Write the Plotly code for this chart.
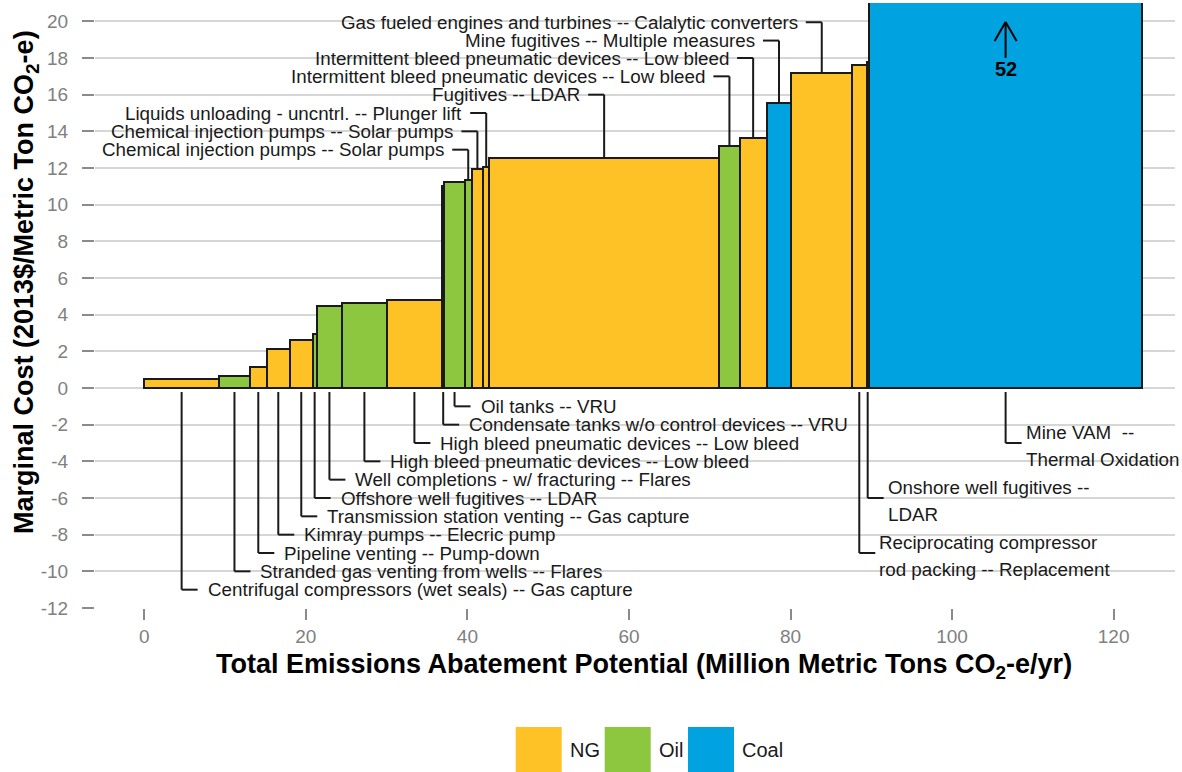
import numpy as np
import plotly.graph_objects as go

# ---- data -------------------------------------------------------------
measures = [
    "Centrifugal compressors (wet seals) -- Gas capture",
    "Stranded gas venting from wells -- Flares",
    "Pipeline venting -- Pump-down",
    "Kimray pumps -- Elecric pump",
    "Transmission station venting -- Gas capture",
    "Offshore well fugitives -- LDAR",
    "Well completions - w/ fracturing -- Flares",
    "High bleed pneumatic devices -- Low bleed",
    "High bleed pneumatic devices -- Low bleed",
    "Condensate tanks w/o control devices -- VRU",
    "Oil tanks -- VRU",
    "Chemical injection pumps -- Solar pumps",
    "Chemical injection pumps -- Solar pumps",
    "Liquids unloading - uncntrl. -- Plunger lift",
    "Fugitives -- LDAR",
    "Intermittent bleed pneumatic devices -- Low bleed",
    "Intermittent bleed pneumatic devices -- Low bleed",
    "Mine fugitives -- Multiple measures",
    "Gas fueled engines and turbines -- Calalytic converters",
    "Reciprocating compressor\nrod packing -- Replacement",
    "Onshore well fugitives --\nLDAR",
    "Mine VAM  --\nThermal Oxidation",
]
sectors = ["NG", "Oil", "NG", "NG", "NG", "Oil", "Oil", "Oil", "NG", "NG", "Oil",
           "Oil", "NG", "NG", "NG", "Oil", "NG", "Coal", "NG", "NG", "NG", "Coal"]
# abatement potential (million metric tons CO2-e/yr)
potential = [9.25, 3.83, 2.07, 2.88, 2.81, 0.50, 3.16, 5.50, 6.88, 0.25, 2.56,
             0.83, 1.44, 0.74, 28.46, 2.56, 3.31, 3.09, 7.50, 1.79, 0.29, 33.86]
# marginal cost (2013$/metric ton CO2-e)
cost = [0.50, 0.63, 1.12, 2.15, 2.62, 2.97, 4.47, 4.65, 4.78, 11.00, 11.21,
        11.36, 11.96, 12.08, 12.54, 13.20, 13.65, 15.55, 17.19, 17.64, 17.80, 52]

legend_order = ["NG", "Oil", "Coal"]
x_ticks = [0, 20, 40, 60, 80, 100, 120]
y_ticks = list(range(-12, 21, 2))
y_tick_text = [str(v) for v in y_ticks]  # plain hyphen for negatives

x_title = "<b>Total Emissions Abatement Potential (Million Metric Tons CO<sub>2</sub>-e/yr)</b>"
y_title = "<b>Marginal Cost (2013$/Metric Ton CO<sub>2</sub>-e)</b>"

# ---- styling / label layout ------------------------------------------
palette = {"NG": "#FEC126", "Oil": "#8DC63F", "Coal": "#00A3E0"}
INK = "#1a1a1a"
FONT = "Liberation Sans, Arial, sans-serif"
LABEL_SIZE = 18.8

# side of the chart each label sits on, and the height of its leader elbow
label_side = ["below"] * 11 + ["above"] * 8 + ["right"] * 3
label_level = [-11, -10, -9, -8, -7, -6, -5, -4, -3, -2, -1,
               13, 14, 15, 16, 17, 18, 18.95, 19.95,
               -9, -6, -3]

# plot area in page pixels
PL, PR, PT, PB = 95, 1175, 3, 608
X_RANGE = [-6.1, 127.6]
Y_RANGE = [-12, 21]
PX_PER_X = (PR - PL) / (X_RANGE[1] - X_RANGE[0])
ELBOW = 16 / PX_PER_X  # horizontal leader length in data units


def paper_x(px):
    return (px - PL) / (PR - PL)


def paper_y(py):
    return (PB - py) / (PB - PT)


widths = np.array(potential)
right_edges = np.cumsum(widths)
centers = right_edges - widths / 2

fig = go.Figure(
    go.Bar(
        x=centers,
        y=cost,
        width=widths,
        base=0,
        marker=dict(color=[palette[s] for s in sectors], line=dict(color=INK, width=2)),
        hovertext=measures,
        showlegend=False,
    )
)

shapes = []
annotations = []


def seg(x0, y0, x1, y1):
    shapes.append(dict(type="line", xref="x", yref="y", x0=x0, y0=y0, x1=x1, y1=y1,
                       line=dict(color=INK, width=2), layer="above"))


for name, side, lvl, cx, c in zip(measures, label_side, label_level, centers, cost):
    if side == "above":
        seg(cx, c, cx, lvl)
        seg(cx - ELBOW, lvl, cx, lvl)
        annotations.append(dict(x=cx - ELBOW, y=lvl, text=name, xref="x", yref="y",
                                xanchor="right", yanchor="middle", xshift=-6,
                                showarrow=False, font=dict(size=LABEL_SIZE, color=INK)))
    elif side == "below":
        seg(cx, -0.22, cx, lvl)
        seg(cx, lvl, cx + ELBOW, lvl)
        annotations.append(dict(x=cx + ELBOW, y=lvl, text=name, xref="x", yref="y",
                                xanchor="left", yanchor="middle", xshift=8,
                                showarrow=False, font=dict(size=LABEL_SIZE, color=INK)))
    else:
        seg(cx, -0.22, cx, lvl)
        seg(cx, lvl, cx + ELBOW, lvl)
        first, second = name.split("\n")
        for txt, dy in ((first, 0.6), (second, -0.9)):
            annotations.append(dict(x=cx + ELBOW, y=lvl + dy, text=txt, xref="x", yref="y",
                                    xanchor="left", yanchor="middle", xshift=2,
                                    showarrow=False, font=dict(size=LABEL_SIZE, color=INK)))

# off-scale marker for the last (clipped) bar: open arrow pointing up with its value
tip_y = 19.97
arrow_parts = [(0, 0, 0, -36), (0, 0, -11, -19), (0, 0, 11, -19)]
for x0, y0, x1, y1 in arrow_parts:
    shapes.append(dict(type="line", xref="x", yref="y", xsizemode="pixel", ysizemode="pixel",
                       xanchor=centers[-1], yanchor=tip_y, x0=x0, y0=y0, x1=x1, y1=y1,
                       line=dict(color="#000000", width=2), layer="above"))
annotations.append(dict(x=centers[-1], y=tip_y, xref="x", yref="y",
                        text="<b>%d</b>" % cost[-1], showarrow=False,
                        yanchor="middle", yshift=-47, font=dict(size=20, color="#000000")))

# legend swatches drawn below the axis title
sw_left = [515.7, 604.7, 688.0]
for sector, left in zip(legend_order, sw_left):
    shapes.append(dict(type="rect", xref="paper", yref="paper",
                       x0=paper_x(left), x1=paper_x(left + 46),
                       y0=paper_y(727), y1=paper_y(773),
                       fillcolor=palette[sector], line=dict(width=0)))
    annotations.append(dict(x=paper_x(left + 46), y=paper_y(750), xref="paper", yref="paper",
                            text=sector, showarrow=False, xanchor="left", yanchor="middle",
                            xshift=6, font=dict(size=20, color=INK)))

# axis titles
annotations.append(dict(x=paper_x(644), y=paper_y(666), xref="paper", yref="paper",
                        text=x_title, showarrow=False, xanchor="center", yanchor="middle",
                        font=dict(size=27, color="#000000")))
annotations.append(dict(x=paper_x(26), y=paper_y(282), xref="paper", yref="paper",
                        text=y_title, showarrow=False, textangle=-90,
                        xanchor="center", yanchor="middle",
                        font=dict(size=27, color="#000000")))

fig.update_layout(
    width=1182,
    height=772,
    autosize=False,
    margin=dict(l=PL, r=1182 - PR, t=PT, b=772 - PB),
    paper_bgcolor="white",
    plot_bgcolor="white",
    font=dict(family=FONT, color=INK),
    shapes=shapes,
    annotations=annotations,
    bargap=0,
    xaxis=dict(
        range=X_RANGE,
        tickvals=x_ticks,
        showgrid=False,
        zeroline=False,
        ticks="outside",
        ticklen=11,
        tickwidth=2,
        tickcolor="#8a8a8a",
        tickfont=dict(size=19, color="#808080"),
    ),
    yaxis=dict(
        range=Y_RANGE,
        tickvals=y_ticks,
        ticktext=y_tick_text,
        ticklabelstandoff=10,
        showgrid=True,
        gridcolor="#d6d6d6",
        gridwidth=1.5,
        zeroline=False,
        ticks="outside",
        ticklen=12,
        tickwidth=2,
        tickcolor="#8a8a8a",
        tickfont=dict(size=19, color="#808080"),
    ),
)

fig.write_html("out.html")
